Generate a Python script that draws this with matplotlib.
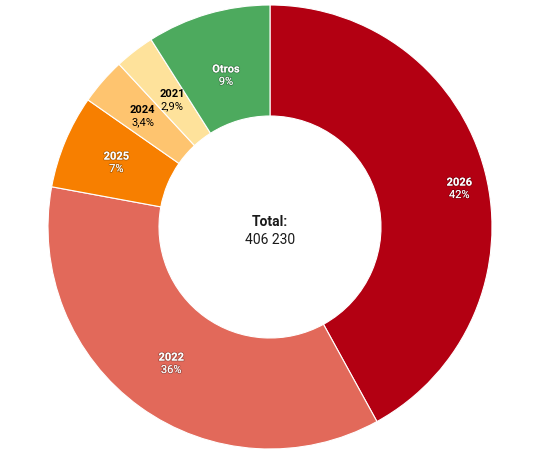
import numpy as np
import matplotlib.pyplot as plt
import matplotlib.patheffects as pe

plt.rcParams['font.family'] = ['Roboto', 'DejaVu Sans']

# data, clockwise from 12 o'clock
years = ["2026", "2022", "2025", "2024", "2021", "Otros"]
shares = [42.0, 35.9, 6.8, 3.4, 2.9, 9.0]
pct_labels = ["42%", "36%", "7%", "3,4%", "2,9%", "9%"]
total_label = "406 230"

colors = ["#b30012", "#e2695a", "#f77f00", "#fec46f", "#fee29b", "#4daa5e"]
text_colors = ["white", "white", "white", "black", "black", "white"]
label_r = [0.87, 0.76, 0.75, 0.76, 0.72, 0.71]
label_shift = [-3.0, 0, 0, 0, 0, 0]  # degrees

W, H = 546, 461
R_PX = 222
CX, CY = 270, 234  # centre in px from bottom-left

fig = plt.figure(figsize=(W / 100, H / 100), dpi=100)
ax = fig.add_axes([0, 0, 1, 1])
ax.axis("off")

wedges, _ = ax.pie(shares, colors=colors, startangle=90, counterclock=False,
                   radius=1.0, wedgeprops=dict(width=0.5, edgecolor="white", linewidth=0.8))

ax.set_xlim(-CX / R_PX, (W - CX) / R_PX)
ax.set_ylim(-CY / R_PX, (H - CY) / R_PX)
ax.set_aspect("equal", adjustable="box")

shadow = [pe.withStroke(linewidth=1.2, foreground=(0, 0, 0, 0.25))]
for w, yr, pct, tc, r, sh in zip(wedges, years, pct_labels, text_colors, label_r, label_shift):
    ang = np.deg2rad((w.theta1 + w.theta2) / 2 + sh)
    x, y = r * np.cos(ang), r * np.sin(ang)
    eff = shadow if tc == "white" else None
    ax.text(x, y + 0.028, yr, ha="center", va="center", fontsize=8,
            fontweight="bold", color=tc, path_effects=eff)
    ax.text(x, y - 0.028, pct, ha="center", va="center", fontsize=8,
            color=tc, path_effects=eff)

ax.text(0, 0.022, "Total:", ha="center", va="center", fontsize=10,
        fontweight="bold", color="#1a1a1a")
ax.text(0, -0.059, total_label, ha="center", va="center", fontsize=10,
        color="#1a1a1a")

fig.savefig("out.png", dpi=100, facecolor="white")
